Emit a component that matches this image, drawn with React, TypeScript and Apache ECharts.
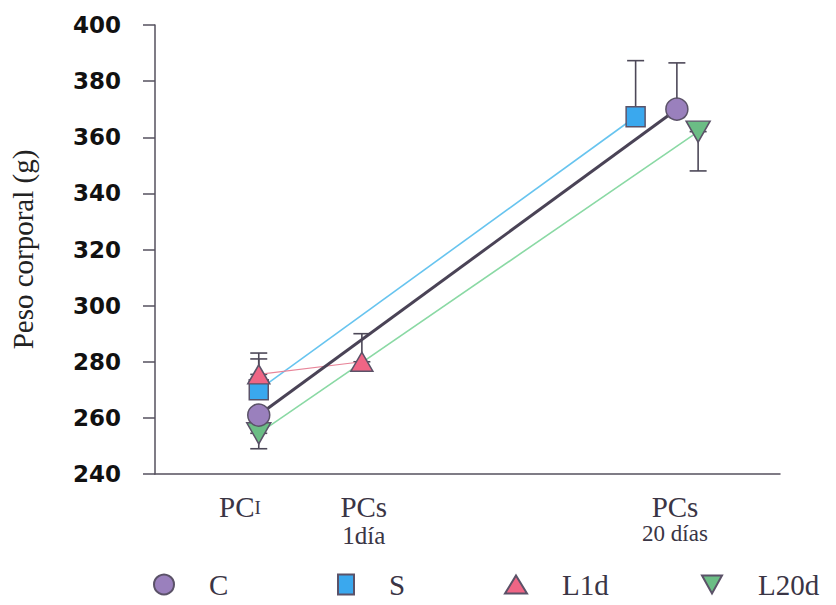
import React, { useEffect, useRef } from "react";
import * as echarts from "echarts";

// Series data (x = horizontal position on a 0–100 scale, y = body weight in g)
const seriesNames = ["C", "S", "L1d", "L20d"];
const cX = [16.6, 83.5];
const cY = [261, 370];
const cUp = [0, 16.5];
const cDown = [0, 0];

const sX = [16.6, 76.9];
const sY = [270, 367.3];
const sUp = [11, 20];
const sDown = [0, 0];

const l1X = [16.6, 33.1];
const l1Y = [275.5, 280];
const l1Up = [7.6, 10];
const l1Down = [0, 0];

const l20X = [16.6, 86.9];
const l20Y = [254.5, 362];
const l20Up = [0, 0];
const l20Down = [5.5, 14];

// X tick labels and their positions
const xLabelPos = [13.6, 33.4, 83.2];
const xLabelText = ["{p|PC}{sm|I}", "{p|PCs}\n{d|1día}", "{p2|PCs}\n{d2|20 días}"];

const yTicks = { min: 240, max: 400, interval: 20 };

const SERIF = "'Liberation Serif', 'Times New Roman', serif";
const TXT = "#3a3545";
const AXIS = "#55505e";
const BORDER = "#5b5268";

function pairs(xs: number[], ys: number[]) {
  return xs.map((x, i) => [x, ys[i]]);
}
function errs(xs: number[], ys: number[], up: number[], down: number[]) {
  return xs
    .map((x, i) => [x, ys[i] - down[i], ys[i] + up[i]])
    .filter((d) => d[2] - d[1] > 0);
}

export default function App() {
  const ref = useRef<HTMLDivElement>(null);
  useEffect(() => {
    if (!ref.current) return;
    const chart = echarts.init(ref.current, null, { renderer: "svg" });
    const errorData = [
      ...errs(cX, cY, cUp, cDown),
      ...errs(sX, sY, sUp, sDown),
      ...errs(l1X, l1Y, l1Up, l1Down),
      ...errs(l20X, l20Y, l20Up, l20Down),
    ];
    const invTri = "path://M0,0L20,0L10,18Z";
    const legendBase = {
      top: 570,
      padding: 0,
      itemHeight: 20,
      itemWidth: 20,
      textStyle: { fontFamily: SERIF, fontSize: 29, color: TXT, padding: [6, 0, 0, 30] },
    };
    chart.setOption({
      animation: false,
      backgroundColor: "#ffffff",
      grid: { left: 148, right: 56, top: 25, bottom: 131 },
      legend: [
        { ...legendBase, left: 153, data: [{ name: "C", icon: "circle" }] },
        { ...legendBase, left: 337, itemWidth: 16, data: [{ name: "S", icon: "rect" }] },
        { ...legendBase, left: 504, itemWidth: 22, itemHeight: 18, data: [{ name: "L1d", icon: "triangle" }] },
        { ...legendBase, left: 701, itemWidth: 22, itemHeight: 18, data: [{ name: "L20d", icon: invTri }] },
      ],
      xAxis: {
        type: "value",
        min: 0,
        max: 100,
        splitLine: { show: false },
        axisLine: { lineStyle: { color: AXIS, width: 1.5 } },
        axisTick: { show: false },
        axisLabel: {
          customValues: xLabelPos,
          margin: 18,
          verticalAlign: "top",
          formatter: (v: number) => {
            const i = xLabelPos.findIndex((p) => Math.abs(p - v) < 1e-6);
            return i >= 0 ? xLabelText[i] : "";
          },
          rich: {
            p: { fontFamily: SERIF, fontSize: 29, color: TXT, lineHeight: 30 },
            sm: { fontFamily: SERIF, fontSize: 19, color: TXT, lineHeight: 30 },
            d: { fontFamily: SERIF, fontSize: 25, color: TXT, lineHeight: 26 },
            p2: { fontFamily: SERIF, fontSize: 29, color: TXT, lineHeight: 30 },
            d2: { fontFamily: SERIF, fontSize: 23, color: TXT, lineHeight: 22 },
          },
        },
      },
      yAxis: {
        type: "value",
        min: yTicks.min,
        max: yTicks.max,
        interval: yTicks.interval,
        name: "Peso corporal (g)",
        nameLocation: "middle",
        nameGap: 118,
        nameTextStyle: { fontFamily: SERIF, fontSize: 29, color: "#222" },
        splitLine: { show: false },
        axisLine: { show: true, lineStyle: { color: AXIS, width: 1.5 } },
        axisTick: { show: true, length: 12, lineStyle: { color: AXIS, width: 1.5 } },
        axisLabel: {
          margin: 34,
          fontFamily: "'DejaVu Sans', sans-serif",
          fontWeight: "bold",
          fontSize: 23,
          color: "#111",
        },
      },
      series: [
        {
          type: "custom",
          name: "err",
          z: 1,
          data: errorData,
          renderItem: (params: any, api: any) => {
            const x = api.value(0);
            const p1 = api.coord([x, api.value(1)]);
            const p2 = api.coord([x, api.value(2)]);
            const hw = 8.5;
            const st = { stroke: "#4d4858", lineWidth: 1.6 };
            return {
              type: "group",
              children: [
                { type: "line", shape: { x1: p1[0], y1: p1[1], x2: p2[0], y2: p2[1] }, style: st },
                { type: "line", shape: { x1: p1[0] - hw, y1: p1[1], x2: p1[0] + hw, y2: p1[1] }, style: st },
                { type: "line", shape: { x1: p2[0] - hw, y1: p2[1], x2: p2[0] + hw, y2: p2[1] }, style: st },
              ],
            };
          },
        },
        {
          type: "line",
          name: "L20d",
          z: 2,
          data: pairs(l20X, l20Y),
          symbol: invTri,
          symbolSize: [24, 21],
          lineStyle: { color: "#8ad9a4", width: 1.6 },
          itemStyle: { color: "#6bbd85", borderColor: BORDER, borderWidth: 1.5 },
        },
        {
          type: "line",
          name: "S",
          z: 2,
          data: pairs(sX, sY),
          symbol: "rect",
          symbolSize: [19, 20],
          lineStyle: { color: "#67c4ef", width: 1.6 },
          itemStyle: { color: "#3aa8ee", borderColor: BORDER, borderWidth: 1.5 },
        },
        {
          type: "line",
          name: "L1d",
          z: 2,
          data: pairs(l1X, l1Y),
          symbol: "triangle",
          symbolSize: [22, 19],
          lineStyle: { color: "#e88499", width: 1.2 },
          itemStyle: { color: "#ef6585", borderColor: BORDER, borderWidth: 1.5 },
        },
        {
          type: "line",
          name: "C",
          z: 3,
          data: pairs(cX, cY),
          symbol: "circle",
          symbolSize: 22,
          lineStyle: { color: "#4a4356", width: 3 },
          itemStyle: { color: "#9a80bd", borderColor: BORDER, borderWidth: 1.5 },
        },
      ],
    });
    return () => chart.dispose();
  }, []);
  return (
    <div
      ref={ref}
      style={{ position: "fixed", left: 0, top: 0, width: 836, height: 605, background: "#fff" }}
    />
  );
}
